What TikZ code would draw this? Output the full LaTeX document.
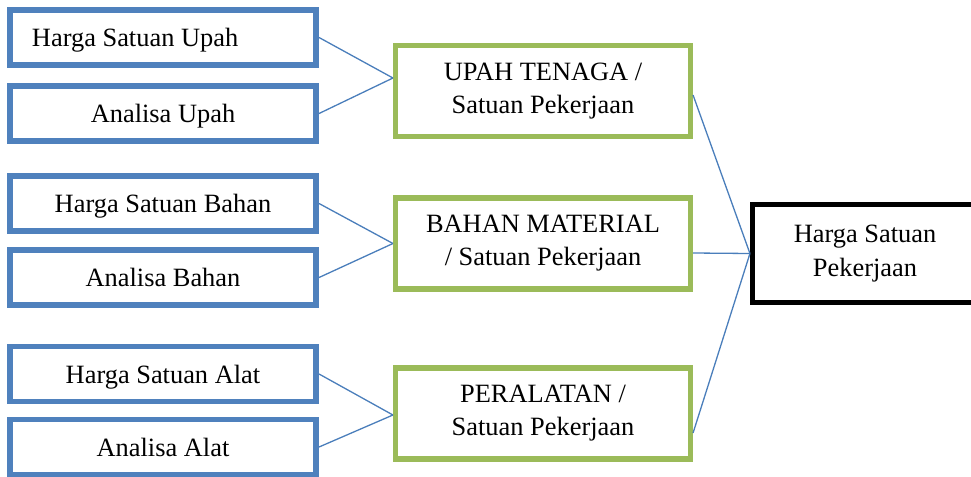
\documentclass[tikz,border=0pt]{standalone}
\usepackage{fontspec}
\setmainfont{Liberation Serif}
\definecolor{boxblue}{HTML}{4F81BD}
\definecolor{boxgreen}{HTML}{9BBB59}
\definecolor{linkblue}{HTML}{4A7EBB}

\begin{document}
\begin{tikzpicture}[x=0.5pt,y=-0.5pt,
  every node/.style={font=\fontsize{13.2}{16.5}\selectfont, inner sep=0pt, align=center},
  input/.style={draw=boxblue, line width=2.85pt, minimum width=153.2pt, minimum height=27.6pt, text depth=0pt},
  cost/.style={draw=boxgreen, line width=2.65pt, minimum width=147.4pt, minimum height=45.4pt},
  total/.style={draw=black, line width=2.75pt, minimum width=112.3pt, minimum height=48.8pt}]
\useasboundingbox (0,0) rectangle (971,477);
\clip (0,0) rectangle (971,477);
\node[input,text width=131pt,align=flush left] (hsu) at (163,37.5) {Harga Satuan Upah};
\node[input] (au) at (163,113.5) {Analisa Upah};
\node[input] (hsb) at (163,203.5) {Harga Satuan Bahan};
\node[input] (ab) at (163,277.5) {Analisa Bahan};
\node[input] (hsa) at (163,374) {Harga Satuan Alat};
\node[input] (aa) at (163,447) {Analisa Alat};
\node[cost] (upah) at (543,91) {UPAH TENAGA /\\Satuan Pekerjaan};
\node[cost] (bahan) at (543,243.5) {BAHAN MATERIAL\\/ Satuan Pekerjaan};
\node[cost] (alat) at (543,413.5) {PERALATAN /\\Satuan Pekerjaan};
\node[total] (hsp) at (865,253.5) {Harga Satuan\\[0.5pt]Pekerjaan};
\path[draw=linkblue,line width=0.65pt]
(hsu.east) edge ([yshift=6.5pt]upah.west)
(au.east) edge ([yshift=6.5pt]upah.west)
(hsb.east) edge (bahan.west)
(ab.east) edge (bahan.west)
(hsa.east) edge ([yshift=-0.75pt]alat.west)
(aa.east) edge ([yshift=-0.75pt]alat.west);
\path[draw=linkblue,line width=0.65pt]
([yshift=-2pt]upah.east) edge (hsp.west)
([yshift=-4.75pt]bahan.east) edge (hsp.west)
([yshift=-9.75pt]alat.east) edge (hsp.west);
\end{tikzpicture}
\end{document}
